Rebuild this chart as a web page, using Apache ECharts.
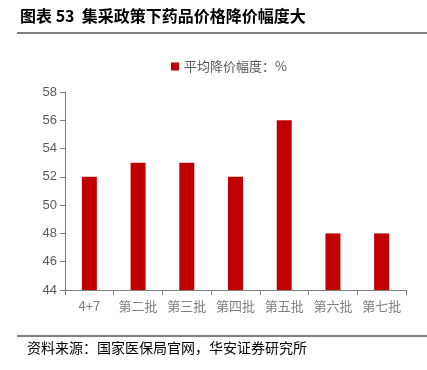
<!DOCTYPE html>
<html><head><meta charset="utf-8">
<script src="https://cdn.jsdelivr.net/npm/echarts@6/dist/echarts.min.js"></script>
<style>html,body{margin:0;padding:0;background:#fff}#c{width:427px;height:370px}</style>
</head><body><div id="c"></div>
<script>
const categories = ['4+7','第二批','第三批','第四批','第五批','第六批','第七批'];
const avgCut = [52, 53, 53, 52, 56, 48, 48];
const seriesName = '平均降价幅度：%';
const titleText = '图表 53  集采政策下药品价格降价幅度大';
const sourceText = '资料来源：国家医保局官网，华安证券研究所';

const chart = echarts.init(document.getElementById('c'));
chart.setOption({
  animation: false,
  textStyle: {fontFamily: '"Noto Sans CJK SC", "Liberation Sans", sans-serif'},
  graphic: [
    {type:'text', left: 20, top: 8, style:{text: titleText, font:'bold 16px "Noto Sans CJK SC", sans-serif', fill:'#000'}},
    {type:'rect', shape:{x:17, y:32, width:410, height:2}, style:{fill:'#7f7f7f'}},
    {type:'rect', shape:{x:17, y:335, width:410, height:2}, style:{fill:'#7f7f7f'}},
    {type:'text', left: 27, top: 341, style:{text: sourceText, font:'14px "Noto Sans CJK SC", sans-serif', fill:'#000'}}
  ],
  legend: {
    data:[seriesName], left: 166, top: 55, itemWidth: 8, itemHeight: 8, icon:'rect', itemGap: 4,
    textStyle:{color:'#595959', fontSize: 13}
  },
  grid: {left: 65, right: 21, top: 92, bottom: 80, containLabel: false},
  xAxis: {
    type:'category', data: categories,
    axisLine:{lineStyle:{color:'#808080'}},
    axisTick:{show:true, alignWithLabel:false, lineStyle:{color:'#808080'}},
    axisLabel:{color:'#7f7f7f', fontSize: 13, margin: 10, interval: 0}
  },
  yAxis: {
    type:'value', min: 44, max: 58, interval: 2,
    splitLine:{show:false},
    axisLine:{show:true, lineStyle:{color:'#808080'}},
    axisTick:{show:true, lineStyle:{color:'#808080'}},
    axisLabel:{color:'#595959', fontSize: 13, fontFamily:'"Liberation Sans", sans-serif'}
  },
  series: [{
    name: seriesName, type:'bar', data: avgCut, barWidth: 15,
    itemStyle:{color:'#c00000'}
  }]
});
</script></body></html>
